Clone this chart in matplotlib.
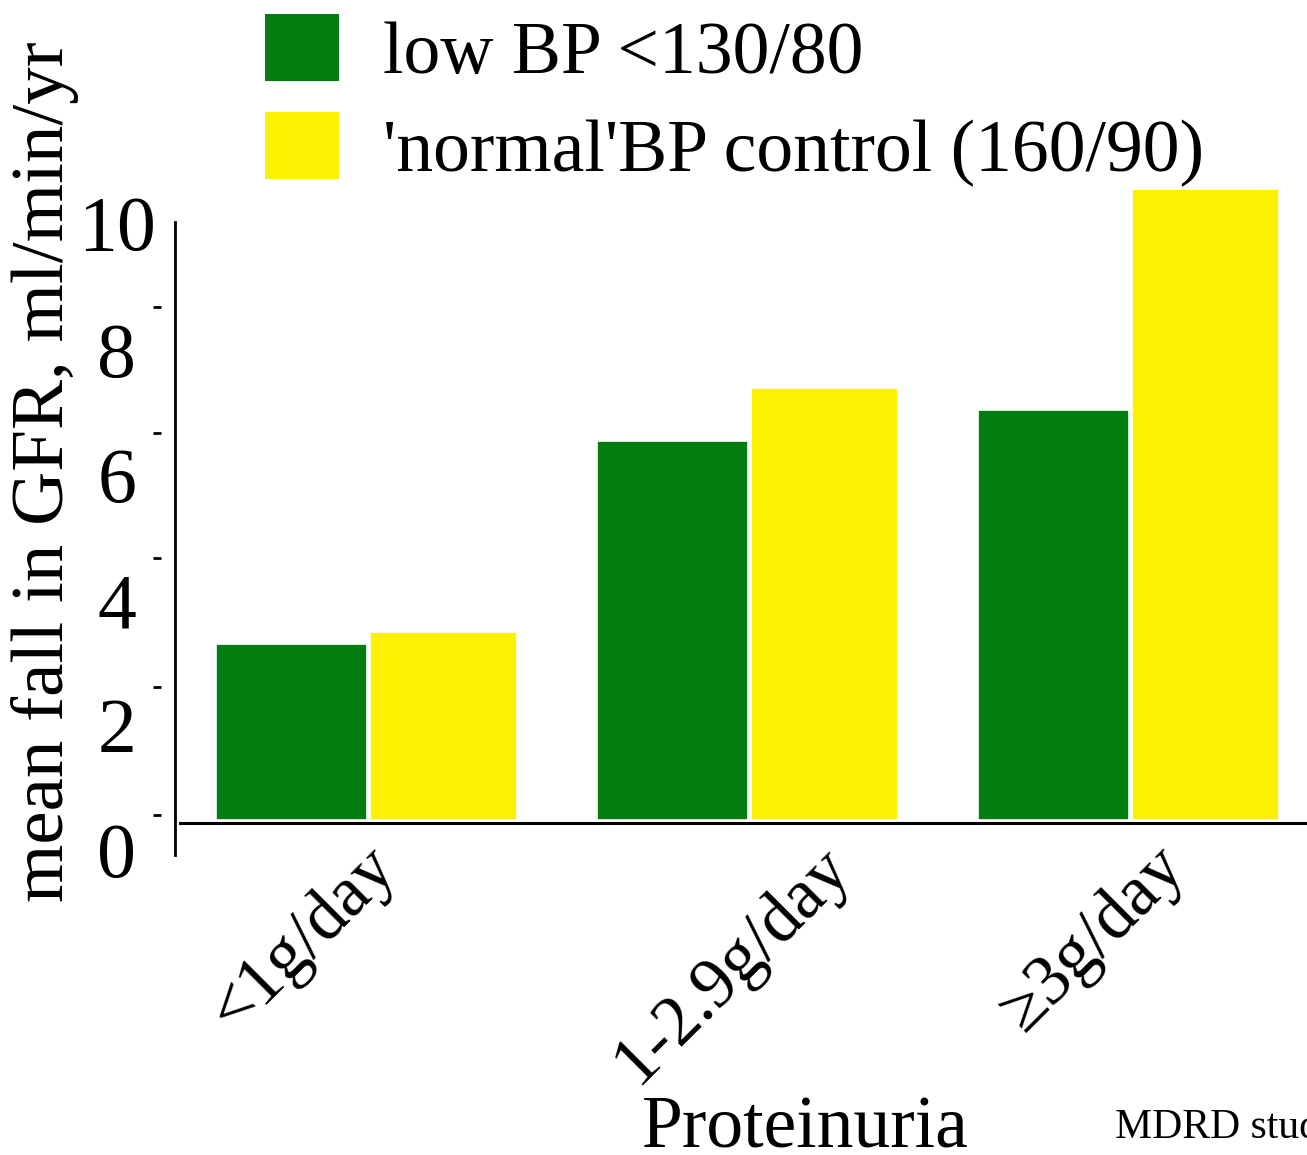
import matplotlib
matplotlib.use("Agg")
import matplotlib.pyplot as plt
from matplotlib.patches import Patch

plt.rcParams['font.family'] = ['Liberation Serif', 'DejaVu Serif']

# data
categories = ['<1g/day', '1-2.9g/day', '≥3g/day']
low_bp = [2.77, 5.97, 6.46]
normal_bp = [2.96, 6.80, 9.94]
series_names = ['low BP <130/80', "'normal'BP control (160/90)"]
ytick_text = ['0', '2', '4', '6', '8', '10']

green = '#027E11'
yellow = '#FCF200'

fig = plt.figure(figsize=(13.07, 11.55), dpi=100)
ax = fig.add_axes([175/1307, (1155-855)/1155, (1307-175)/1307, (855-222)/1155])

x = list(range(len(categories)))
ax.bar([i - 0.398 for i in x], low_bp, width=0.398, align='edge', color=green,
       edgecolor='white', linewidth=1.2, clip_on=False, zorder=3)
ax.bar([i + 0.006 for i in x], normal_bp, width=0.386, align='edge', color=yellow,
       edgecolor='white', linewidth=1.2, clip_on=False, zorder=3)

ax.set_xlim(-0.505, 2.466)
ax.set_ylim(-0.551, 9.417)

# axis lines
for s in ['top', 'right', 'bottom']:
    ax.spines[s].set_visible(False)
ax.spines['left'].set_position(('outward', 10))
ax.spines['left'].set_color('none')
ax.axvline(-0.505, color='black', lw=2, clip_on=False)
ax.axhline(-0.04, xmin=5/1132, xmax=1, color='black', lw=2.2, zorder=1)

# y ticks: short marks and separately placed labels (as in the original slide)
ax.set_yticks([0.08, 2.09, 4.13, 6.09, 8.08, 9.40], minor=True)
ax.set_yticks([-0.47, 1.50, 3.46, 5.43, 7.40, 9.40])
ax.set_yticklabels(ytick_text, fontsize=56, ha='center')
ax.tick_params(axis='y', which='major', length=0, pad=32)
ax.tick_params(axis='y', which='minor', length=6, width=2, direction='out')

# x labels, rotated
ax.set_xticks([])
xlabel_shift = [0.05, 0.24, 0.12]
for i, lab in enumerate(categories):
    ax.text(i + xlabel_shift[i], -0.004, lab, transform=ax.get_xaxis_transform(),
            rotation=45, rotation_mode='anchor', ha='right', va='center', fontsize=51)

fig.text(805/1307, 1 - 1148/1155, 'Proteinuria', ha='center', va='baseline', fontsize=53)
fig.text(1115/1307, 1 - 1138/1155, 'MDRD study', ha='left', va='baseline', fontsize=30)
fig.text(45/1307, 1 - 472/1155, 'mean fall in GFR, ml/min/yr', rotation=90,
         ha='center', va='center', fontsize=54)

handles = [Patch(facecolor=green, edgecolor='none'), Patch(facecolor=yellow, edgecolor='none')]
fig.legend(handles, series_names, loc='upper left', bbox_to_anchor=(265/1307, 1 - 14/1155),
           fontsize=53, frameon=False, handlelength=1.0, handleheight=1.02,
           handletextpad=0.6, labelspacing=0.32, borderpad=0, borderaxespad=0)

fig.savefig('out.png', dpi=100)
